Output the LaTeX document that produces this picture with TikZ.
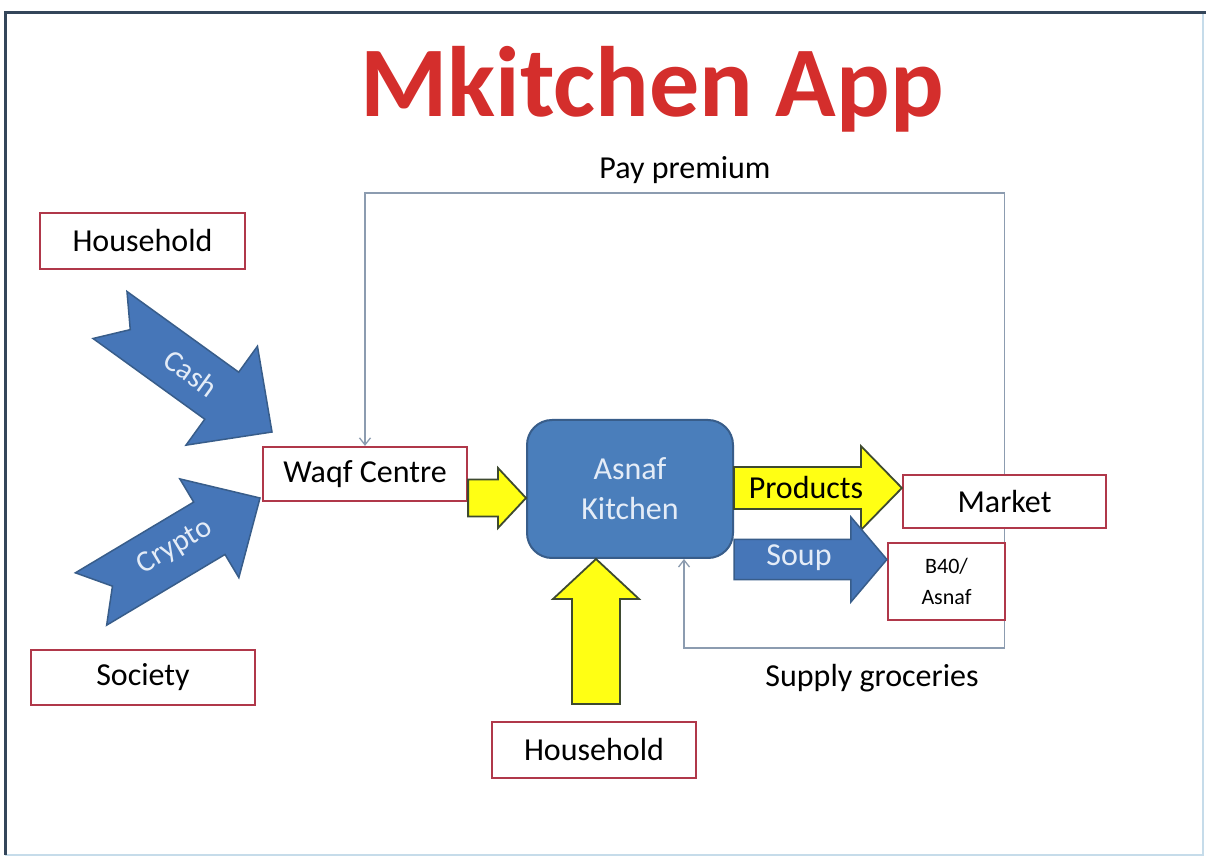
\documentclass[tikz,border=0pt]{standalone}
\usepackage{fontspec}
\setmainfont{Carlito}
\usetikzlibrary{calc,arrows.meta}
\pgfdeclarelayer{background}
\pgfsetlayers{background,main}
\definecolor{boxred}{HTML}{B0384A}
\definecolor{kblue}{HTML}{4A7EBB}
\definecolor{kborder}{HTML}{385D8A}
\definecolor{ablue}{HTML}{4676B8}
\definecolor{ktext}{HTML}{E4ECF7}
\definecolor{yfill}{HTML}{FFFF14}
\definecolor{yborder}{HTML}{3E4A30}
\definecolor{conncol}{HTML}{8C9CB0}
\definecolor{titlered}{HTML}{D42E2C}
\definecolor{framedark}{HTML}{34465A}
\definecolor{framelight}{HTML}{C6DCEA}
\newcommand{\lblfont}{\fontsize{32}{38}\selectfont}
\newcommand{\blockarrow}[7]{%
  \path[#1] let \p1=#2, \p2=#3,
    \n1={atan2(\y2-\y1,\x2-\x1)},
    \n2={veclen(\x2-\x1,\y2-\y1)} in
    ($(\p1)+({\n1+90}:#4)$)
    -- ($(\p1)+({\n1}:{\n2-#6})+({\n1+90}:#4)$)
    -- ($(\p1)+({\n1}:{\n2-#6})+({\n1+90}:#5)$)
    -- (\p2)
    -- ($(\p1)+({\n1}:{\n2-#6})+({\n1-90}:#5)$)
    -- ($(\p1)+({\n1}:{\n2-#6})+({\n1-90}:#4)$)
    -- ($(\p1)+({\n1-90}:#4)$)
    -- ($(\p1)+({\n1}:#7)$)
    -- cycle;}
\tikzset{
  box/.style={draw=boxred, line width=2.2pt, fill=white, font=\lblfont, inner sep=0pt},
  kbox/.style={draw=kborder, line width=2pt, fill=kblue, rounded corners=25pt,
     text=ktext, align=center, font=\fontsize{32}{40}\selectfont, inner sep=0pt},
  blueA/.style={fill=ablue, draw=kborder, line width=1.5pt, line join=miter},
  yellowA/.style={fill=yfill, draw=yborder, line width=1.8pt, line join=miter},
  conn/.style={draw=conncol, line width=1.3pt, -{Straight Barb[length=7pt,width=11pt]}},
  lbl/.style={font=\lblfont, text=black, inner sep=0pt},
  albl/.style={font=\fontsize{30}{36}\selectfont, text=ktext, inner sep=0pt}
}
\begin{document}
\begin{tikzpicture}[x=1pt,y=1pt]
\useasboundingbox (0,0) rectangle (1206,857);
% frame
\draw[framelight, line width=2pt] (1203,844) -- (1203,2) -- (5,2);
\draw[framedark, line width=3pt] (5,2) -- (5,844) -- (1206,844);

% title
\node[anchor=base, text=titlered, font=\bfseries\fontsize{100}{110}\selectfont, inner sep=0pt] (title) at (652,740) {Mkitchen App};

% nodes
\node[box, minimum width=205pt, minimum height=56pt] (hh1) at (142.5,616) {Household};
\node[box, minimum width=224pt, minimum height=55pt] (soc) at (143,179.5) {Society};
\node[box, minimum width=204pt, minimum height=54pt] (waqf) at (365,383) {Waqf Centre};
\node[box, minimum width=204pt, minimum height=56pt] (hh2) at (594,107) {Household};
\node[box, minimum width=203pt, minimum height=53pt] (market) at (1004.5,355.5) {Market};
\node[box, minimum width=117pt, minimum height=77pt, align=center, font=\fontsize{22}{31}\selectfont] (b40) at (946.5,275.5) {B40/\\Asnaf};
\node[kbox, minimum width=206pt, minimum height=138pt] (kitchen) at (630,368) {Asnaf\\Kitchen};

\node[lbl] (pp) at (685,687) {Pay premium};
\node[lbl] (sg) at (872,179) {Supply groceries};

% thin connectors (behind boxes)
\coordinate (ytop) at (0,664);
\coordinate (ybot) at (0,209);
\coordinate (kin) at ($(kitchen.south)+(54,0)$);
\begin{pgfonlayer}{background}
\fill[white] (0,0) rectangle (1206,857);
\draw[conn] (market.north) -- (market.north |- ytop) -| (waqf.north);
\draw[conn] (market.south) -- (market.south |- ybot) -| (kin);
\end{pgfonlayer}

% block arrows
\blockarrow{yellowA}{($(waqf.east)+(0,-24)$)}{($(kitchen.west)+(0,-9)$)}{18.5}{30}{28}{0}
\blockarrow{yellowA}{($(hh2.north)+(2,17)$)}{($(kitchen.south)+(-34,0)$)}{24}{43}{40}{0}
\blockarrow{yellowA}{($(kitchen.east)+(0,1)$)}{($(market.west)+(0,13.5)$)}{21}{42}{41}{0}
\blockarrow{blueA}{($(kitchen.east)+(0,-70.5)$)}{($(b40.west)+(0,22)$)}{20}{42.5}{36}{0}
\blockarrow{blueA}{(110,542)}{(272,425)}{29}{61}{62}{25}
\blockarrow{blueA}{(91,258)}{(260,359)}{30.5}{57.5}{59}{25}

\node[lbl] (prodl) at (806,369) {Products};
\node[albl, font=\lblfont] (soupl) at (799,299) {Soup};
\node[albl, rotate=-36] (cashl) at (191,484) {Cash};
\node[albl, rotate=31] (cryptol) at (175,310) {Crypto};
\end{tikzpicture}
\end{document}
